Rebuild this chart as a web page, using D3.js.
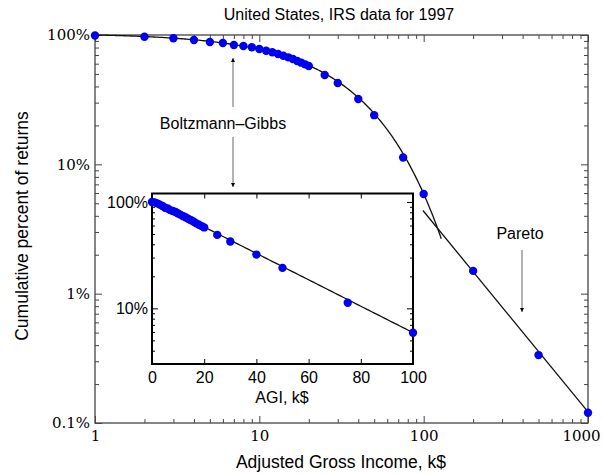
<!DOCTYPE html>
<html><head><meta charset="utf-8">
<script src="https://cdn.jsdelivr.net/npm/d3@7"></script>
<style>
html,body{margin:0;padding:0;background:#fff;}
svg{display:block;}
</style></head>
<body>
<svg id="c" width="603" height="474"></svg>
<script>
// ---- data ----
const agi = [0,1,2,3,4,5,6,7,8,9,10,11,12,13,14,15,16,17,18,19,20,25,30,40,50,75,100,200,500,1000];
const cumulative = [1.0,0.99,0.970,0.943,0.915,0.883,0.867,0.837,0.822,0.803,0.779,0.756,0.735,0.713,0.692,0.672,0.652,0.629,0.611,0.593,0.576,0.49,0.425,0.32,0.24,0.113,0.059,0.0150,0.00335,0.0012];
const mainXTicks = [1,10,100,1000];
const mainXTickLabels = ["1","10","100","1000"];
const mainYTicks = [1,0.1,0.01,0.001];
const mainYTickLabels = ["100%","10%","1%","0.1%"];
const insetXTicks = [0,20,40,60,80,100];
const insetYTicks = [1,0.1];
const insetYTickLabels = ["100%","10%"];
// fit parameters
const bgAmp = 1.03, bgT = 35;          // Boltzmann-Gibbs exponential
const bgRangeMain = [1,128], bgRangeInset = [0,100];
const paretoA = 54.5, paretoAlpha = 1.55, paretoRange = [99,1000];

const svg = d3.select("#c");
const sans = "'Liberation Sans', Arial, Helvetica, sans-serif";
const serif = "'DejaVu Serif', 'Liberation Serif', serif";

const pts = agi.map((a,i)=>({x:a,y:cumulative[i]}));

// ---- main plot ----
const L=95,R=588,T=35,B=423;
const x = d3.scaleLog().domain([1,1000]).range([L,R]);
const y = d3.scaleLog().domain([0.001,1]).range([B,T]);

function minorLog(lo,hi){const out=[];for(let e=lo;e<hi;e++){for(let k=2;k<=9;k++)out.push(k*Math.pow(10,e));}return out;}
const xMinor = minorLog(0,3);
const yMinor = minorLog(-3,0);

const axColor = "#444";
function styleAxis(g,color){g.select(".domain").remove();g.selectAll(".tick line").attr("stroke",color).attr("stroke-width",1);}

const gm = svg.append("g");
gm.append("rect").attr("x",L).attr("y",T).attr("width",R-L).attr("height",B-T).attr("fill","none").attr("stroke",axColor).attr("stroke-width",1.3);

gm.append("g").attr("transform",`translate(0,${B})`)
  .call(d3.axisBottom(x).tickValues(mainXTicks).tickSize(-7).tickPadding(7).tickFormat((d,i)=>mainXTickLabels[i]))
  .call(g=>styleAxis(g,axColor))
  .call(g=>g.selectAll("text").attr("font-family",serif).attr("font-size",15).attr("fill","#000")
    .attr("dx",d=>d===1000?-7:0));
gm.append("g").attr("transform",`translate(0,${B})`)
  .call(d3.axisBottom(x).tickValues(xMinor).tickSize(-4).tickFormat(""))
  .call(g=>styleAxis(g,axColor));
gm.append("g").attr("transform",`translate(0,${T})`)
  .call(d3.axisTop(x).tickValues(mainXTicks).tickSize(-7).tickFormat(""))
  .call(g=>styleAxis(g,axColor));
gm.append("g").attr("transform",`translate(0,${T})`)
  .call(d3.axisTop(x).tickValues(xMinor).tickSize(-4).tickFormat(""))
  .call(g=>styleAxis(g,axColor));
gm.append("g").attr("transform",`translate(${L},0)`)
  .call(d3.axisLeft(y).tickValues(mainYTicks).tickSize(-7).tickPadding(5).tickFormat((d,i)=>mainYTickLabels[i]))
  .call(g=>styleAxis(g,axColor))
  .call(g=>g.selectAll("text").attr("font-family",serif).attr("font-size",15).attr("fill","#000"));
gm.append("g").attr("transform",`translate(${L},0)`)
  .call(d3.axisLeft(y).tickValues(yMinor).tickSize(-4).tickFormat(""))
  .call(g=>styleAxis(g,axColor));
gm.append("g").attr("transform",`translate(${R},0)`)
  .call(d3.axisRight(y).tickValues(mainYTicks).tickSize(-7).tickFormat(""))
  .call(g=>styleAxis(g,axColor));
gm.append("g").attr("transform",`translate(${R},0)`)
  .call(d3.axisRight(y).tickValues(yMinor).tickSize(-4).tickFormat(""))
  .call(g=>styleAxis(g,axColor));

// fit curves
const line = d3.line().x(d=>x(d[0])).y(d=>y(d[1]));
const bgMain = d3.range(0,201).map(i=>{const a=Math.exp(Math.log(bgRangeMain[0])+(Math.log(bgRangeMain[1])-Math.log(bgRangeMain[0]))*i/200);return [a,bgAmp*Math.exp(-a/bgT)];});
gm.append("path").attr("d",line(bgMain)).attr("fill","none").attr("stroke","#111").attr("stroke-width",1.3);
const paretoPts = paretoRange.map(a=>[a,paretoA*Math.pow(a,-paretoAlpha)]);
gm.append("path").attr("d",line(paretoPts)).attr("fill","none").attr("stroke","#111").attr("stroke-width",1.3);

gm.selectAll("circle.m").data(pts.filter(d=>d.x>=1)).join("circle")
  .attr("cx",d=>x(d.x)).attr("cy",d=>y(d.y)).attr("r",4.2).attr("fill","#0000ee");

// labels
svg.append("text").attr("x",339).attr("y",20).attr("text-anchor","middle").attr("font-family",sans).attr("font-size",16).text("United States, IRS data for 1997");
svg.append("text").attr("x",341).attr("y",468).attr("text-anchor","middle").attr("font-family",sans).attr("font-size",17.5).text("Adjusted Gross Income, k$");
svg.append("text").attr("transform","translate(28,226) rotate(-90)").attr("text-anchor","middle").attr("font-family",sans).attr("font-size",17.5).text("Cumulative percent of returns");

// annotations
const defs = svg.append("defs");
defs.append("marker").attr("id","ah").attr("viewBox","0 0 10 10").attr("refX",10).attr("refY",5)
  .attr("markerWidth",4).attr("markerHeight",7).attr("markerUnits","userSpaceOnUse").attr("orient","auto")
  .append("path").attr("d","M0,0 L10,5 L0,10 Z").attr("fill","#000");
svg.append("text").attr("x",223).attr("y",129).attr("text-anchor","middle").attr("font-family",sans).attr("font-size",16).text("Boltzmann\u2013Gibbs");
svg.append("line").attr("x1",233).attr("y1",107).attr("x2",233).attr("y2",58).attr("stroke","#666").attr("stroke-width",1).attr("marker-end","url(#ah)");
svg.append("line").attr("x1",233).attr("y1",137).attr("x2",233).attr("y2",187).attr("stroke","#666").attr("stroke-width",1).attr("marker-end","url(#ah)");
svg.append("text").attr("x",520).attr("y",239).attr("text-anchor","middle").attr("font-family",sans).attr("font-size",16).text("Pareto");
svg.append("line").attr("x1",522).attr("y1",250).attr("x2",522).attr("y2",312).attr("stroke","#666").attr("stroke-width",1).attr("marker-end","url(#ah)");

// ---- inset ----
const iL=152,iR=413,iT=193.5,iB=364;
const xi = d3.scaleLinear().domain([0,100]).range([iL,iR]);
const yi = d3.scaleLog().domain([0.03,1.2]).range([iB,iT]);
const yiMinor = [0.04,0.05,0.06,0.07,0.08,0.09,0.2,0.3,0.4,0.5,0.6,0.7,0.8,0.9];
const gi = svg.append("g");
gi.append("rect").attr("x",iL).attr("y",iT).attr("width",iR-iL).attr("height",iB-iT).attr("fill","#fff");
const inkI = "#000";
gi.append("g").attr("transform",`translate(0,${iB})`)
  .call(d3.axisBottom(xi).tickValues(insetXTicks).tickSize(-5).tickPadding(8).tickFormat(d3.format("d")))
  .call(g=>styleAxis(g,inkI))
  .call(g=>g.selectAll("text").attr("font-family",sans).attr("font-size",16).attr("fill","#000"));
gi.append("g").attr("transform",`translate(0,${iT})`)
  .call(d3.axisTop(xi).tickValues(insetXTicks).tickSize(-5).tickFormat(""))
  .call(g=>styleAxis(g,inkI));
gi.append("g").attr("transform",`translate(${iL},0)`)
  .call(d3.axisLeft(yi).tickValues(insetYTicks).tickSize(-6).tickPadding(4).tickFormat((d,i)=>insetYTickLabels[i]))
  .call(g=>styleAxis(g,inkI))
  .call(g=>g.selectAll("text").attr("font-family",sans).attr("font-size",16).attr("fill","#000"));
gi.append("g").attr("transform",`translate(${iL},0)`)
  .call(d3.axisLeft(yi).tickValues(yiMinor).tickSize(-3).tickFormat(""))
  .call(g=>styleAxis(g,inkI));
gi.append("g").attr("transform",`translate(${iR},0)`)
  .call(d3.axisRight(yi).tickValues(insetYTicks).tickSize(-6).tickFormat(""))
  .call(g=>styleAxis(g,inkI));
gi.append("g").attr("transform",`translate(${iR},0)`)
  .call(d3.axisRight(yi).tickValues(yiMinor).tickSize(-3).tickFormat(""))
  .call(g=>styleAxis(g,inkI));
const lineI = d3.line().x(d=>xi(d[0])).y(d=>yi(d[1]));
const bgInset = d3.range(0,101).map(i=>{const a=bgRangeInset[0]+(bgRangeInset[1]-bgRangeInset[0])*i/100;return [a,bgAmp*Math.exp(-a/bgT)];});
gi.append("path").attr("d",lineI(bgInset)).attr("fill","none").attr("stroke","#111").attr("stroke-width",1.3);
gi.append("rect").attr("x",iL).attr("y",iT).attr("width",iR-iL).attr("height",iB-iT).attr("fill","none").attr("stroke","#000").attr("stroke-width",2);
gi.selectAll("circle").data(pts.filter(d=>d.x<=100)).join("circle")
  .attr("cx",d=>xi(d.x)).attr("cy",d=>yi(d.y)).attr("r",4.2).attr("fill","#0000ee");
svg.append("text").attr("x",282).attr("y",403).attr("text-anchor","middle").attr("font-family",sans).attr("font-size",16).text("AGI, k$");
</script>
</body></html>
